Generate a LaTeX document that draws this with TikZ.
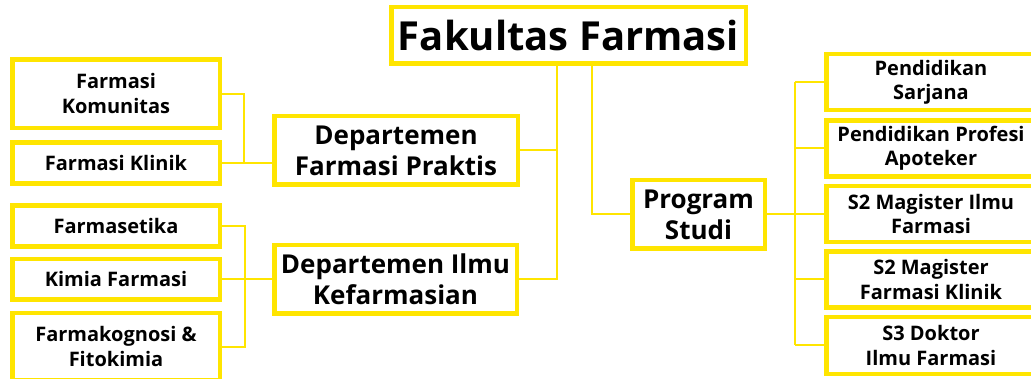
\documentclass[tikz,border=0pt]{standalone}
\usepackage{fontspec}
\setmainfont{Open Sans}
\definecolor{ylw}{RGB}{255,229,0}
\tikzset{
  box/.style={draw=ylw, line width=4.5pt, fill=white, align=center, inner sep=0pt, font=\bfseries\fontsize{20}{24.5}\selectfont, text=black},
  bigbox/.style={box, font=\bfseries\fontsize{26}{31}\selectfont},
  topbox/.style={box, font=\bfseries\fontsize{40}{46}\selectfont},
  conn/.style={draw=ylw, line width=2pt}
}
\begin{document}
\begin{tikzpicture}[x=1pt,y=-1pt]
\useasboundingbox (0,0) rectangle (1031,379);
% top
\node[topbox, minimum width=354.5pt, minimum height=56.5pt] (fak) at (568.5,35.5) {Fakultas Farmasi};
% departments
\node[bigbox, minimum width=243.5pt, minimum height=68.5pt] (dp) at (396,150.5) {Departemen\\Farmasi Praktis};
\node[bigbox, minimum width=242.5pt, minimum height=68.5pt] (di) at (395.5,279.5) {Departemen Ilmu\\Kefarmasian};
\node[bigbox, minimum width=132.5pt, minimum height=68.5pt] (ps) at (698.5,214.5) {Program\\Studi};
% left boxes
\node[box, minimum width=207.5pt, minimum height=68.2pt] (kom) at (116,93.7) {Farmasi\\Komunitas};
\node[box, minimum width=207.5pt, minimum height=41.2pt] (kli) at (116,162.9) {Farmasi Klinik};
\node[box, minimum width=207.5pt, minimum height=41.2pt] (fst) at (116,225.9) {Farmasetika};
\node[box, minimum width=207.5pt, minimum height=40.5pt] (kim) at (116,279.5) {Kimia Farmasi};
\node[box, minimum width=207.5pt, minimum height=67.5pt] (fgn) at (116,346.7) {Farmakognosi \&\\Fitokimia};
% right boxes
\node[box, minimum width=209.5pt, minimum height=56pt] (sar) at (931,82.2) {Pendidikan\\Sarjana};
\node[box, minimum width=209.5pt, minimum height=56pt] (pro) at (931,148.3) {Pendidikan Profesi\\Apoteker};
\node[box, minimum width=209.5pt, minimum height=56pt] (s2i) at (931,214) {S2 Magister Ilmu\\Farmasi};
\node[box, minimum width=209.5pt, minimum height=56pt] (s2k) at (931,279.3) {S2 Magister\\Farmasi Klinik};
\node[box, minimum width=209.5pt, minimum height=57pt] (s3) at (931,345.5) {S3 Doktor\\Ilmu Farmasi};
% junction coordinates
\coordinate (j1) at (557,0);
\coordinate (j2) at (592,0);
\coordinate (j3) at (795,0);
\coordinate (j4) at (243.5,0);
\coordinate (j5) at (245,0);
% connectors from top
\draw[conn] (j1 |- fak.south) -- (j1 |- di.east) -- (di.east);
\draw[conn] (dp.east) -- (dp.east -| j1);
\draw[conn] (j2 |- fak.south) -- (j2 |- ps.west) -- (ps.west);
% program studi
\draw[conn] (ps.east) -- (ps.east -| j3);
\draw[conn] (j3 |- sar.west) -- (j3 |- s3.west);
\foreach \n in {sar,pro,s2i,s2k,s3}{\draw[conn] (j3 |- \n.west) -- (\n.west);}
% left group 1
\draw[conn] (kom.east) -- (kom.east -| j4) -- (j4 |- kli.east);
\draw[conn] (kli.east) -- (kli.east -| dp.west);
% left group 2
\draw[conn] (fst.east) -- (fst.east -| j5) -- (j5 |- fgn.east) -- (fgn.east);
\draw[conn] (kim.east) -- (kim.east -| di.west);
\end{tikzpicture}
\end{document}
